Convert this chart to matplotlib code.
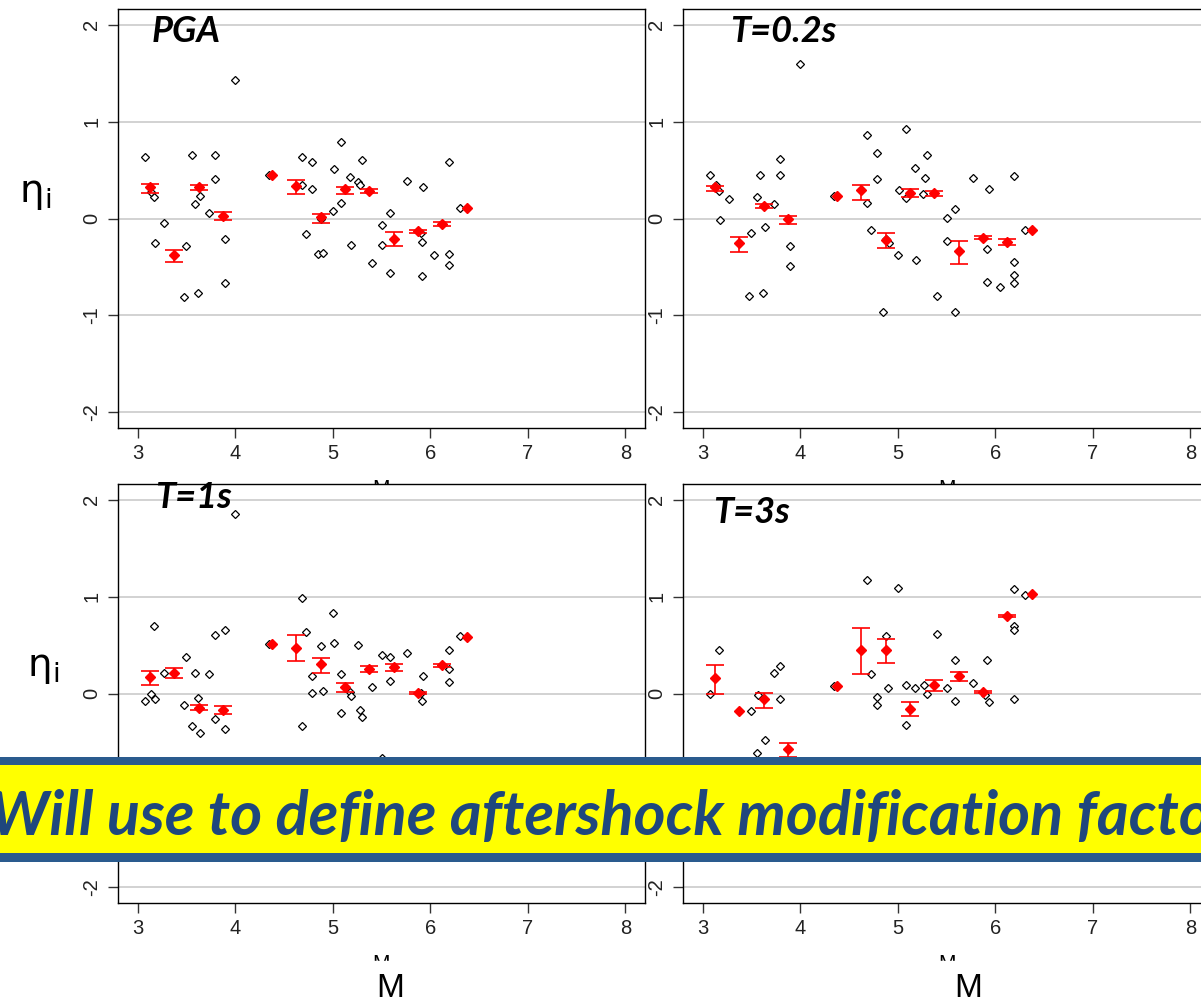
import numpy as np
import matplotlib.pyplot as plt
from matplotlib.patches import Rectangle

# centres of the magnitude bins (red means)
BIN_M = [3.125, 3.375, 3.625, 3.875, 4.375, 4.625, 4.875, 5.125, 5.375, 5.625, 5.875, 6.125, 6.375]

# PGA
PGA_M = [4.00, 3.08, 3.56, 3.79, 3.79, 3.17, 3.14, 3.64, 3.59, 3.73, 3.27, 3.18, 3.50, 3.90, 3.90,
         3.48, 3.62, 4.35, 4.69, 4.79, 4.69, 4.79, 4.73, 5.09, 5.30, 5.01, 5.18, 5.26, 5.28, 5.08,
         5.00, 4.88, 4.85, 4.90, 5.19, 5.40, 5.59, 5.50, 5.50, 5.59, 5.76, 5.93, 5.90, 5.91, 5.92,
         6.04, 6.19, 6.19, 6.19, 6.30]
PGA_ETA = [1.43, 0.63, 0.65, 0.65, 0.41, 0.22, 0.27, 0.23, 0.15, 0.06, -0.05, -0.25, -0.28, -0.21, -0.66,
           -0.81, -0.77, 0.45, 0.63, 0.58, 0.35, 0.30, -0.16, 0.79, 0.60, 0.51, 0.43, 0.38, 0.35, 0.16,
           0.08, -0.01, -0.37, -0.36, -0.27, -0.46, 0.06, -0.07, -0.27, -0.56, 0.39, 0.32, -0.15, -0.24, -0.59,
           -0.38, 0.58, -0.37, -0.48, 0.11]
PGA_MEAN = [0.32, -0.38, 0.32, 0.03, 0.45, 0.33, 0.02, 0.30, 0.285, -0.21, -0.13, -0.06, 0.11]
PGA_HI = [0.36, -0.32, 0.35, 0.065, 0.45, 0.40, 0.045, 0.32, 0.30, -0.14, -0.12, -0.04, 0.11]
PGA_LO = [0.26, -0.45, 0.29, -0.02, 0.45, 0.25, -0.045, 0.25, 0.26, -0.285, -0.15, -0.08, 0.11]

# T=0.2s
T02_M = [4.00, 3.08, 3.14, 3.17, 3.27, 3.18, 3.59, 3.79, 3.79, 3.56, 3.73, 3.64, 3.50, 3.90, 3.90,
         3.48, 3.62, 4.35, 4.69, 5.09, 4.79, 5.30, 5.18, 4.79, 5.28, 5.77, 6.19, 5.94, 5.01, 5.08,
         5.26, 4.69, 5.59, 5.50, 4.73, 4.88, 4.91, 5.50, 5.00, 5.19, 5.91, 6.19, 6.19, 6.19, 5.92,
         6.05, 5.40, 4.85, 5.59, 6.30]
T02_ETA = [1.59, 0.45, 0.35, 0.28, 0.20, -0.02, 0.45, 0.61, 0.45, 0.22, 0.15, -0.09, -0.15, -0.28, -0.49,
           -0.80, -0.77, 0.23, 0.86, 0.92, 0.68, 0.65, 0.52, 0.41, 0.42, 0.42, 0.44, 0.30, 0.29, 0.21,
           0.25, 0.16, 0.10, 0.01, -0.12, -0.21, -0.25, -0.23, -0.38, -0.43, -0.31, -0.45, -0.58, -0.66, -0.65,
           -0.71, -0.80, -0.96, -0.96, -0.12]
T02_MEAN = [0.32, -0.25, 0.13, 0.00, 0.23, 0.29, -0.22, 0.26, 0.26, -0.34, -0.20, -0.24, -0.12]
T02_HI = [0.34, -0.19, 0.15, 0.03, 0.23, 0.35, -0.15, 0.30, 0.28, -0.23, -0.185, -0.21, -0.12]
T02_LO = [0.28, -0.35, 0.11, -0.055, 0.23, 0.19, -0.30, 0.22, 0.23, -0.47, -0.21, -0.27, -0.12]

# T=1s
T1_M = [4.00, 4.69, 3.17, 3.79, 3.90, 4.73, 4.35, 3.50, 3.27, 3.59, 3.73, 4.79, 3.14, 3.08, 3.18,
        3.62, 3.48, 3.79, 3.56, 3.64, 3.90, 4.69, 4.79, 5.00, 4.88, 5.01, 5.26, 4.90, 5.09, 5.18,
        5.19, 5.08, 5.28, 5.30, 5.40, 5.50, 5.59, 5.59, 5.76, 5.93, 5.90, 5.91, 6.19, 6.19, 6.19,
        6.30, 5.50]
T1_ETA = [1.85, 0.98, 0.70, 0.60, 0.65, 0.63, 0.51, 0.375, 0.21, 0.21, 0.20, 0.18, -0.01, -0.08, -0.055,
          -0.045, -0.12, -0.26, -0.33, -0.41, -0.37, -0.34, 0.01, 0.83, 0.49, 0.52, 0.50, 0.03, 0.20, 0.02,
          -0.03, -0.20, -0.165, -0.24, 0.065, 0.40, 0.375, 0.13, 0.42, 0.18, 0.01, -0.08, 0.45, 0.25, 0.12,
          0.59, -0.66]
T1_MEAN = [0.165, 0.21, -0.145, -0.165, 0.51, 0.47, 0.30, 0.07, 0.25, 0.27, 0.01, 0.29, 0.585]
T1_HI = [0.23, 0.26, -0.12, -0.13, 0.51, 0.60, 0.365, 0.11, 0.28, 0.30, 0.02, 0.30, 0.585]
T1_LO = [0.09, 0.16, -0.17, -0.21, 0.51, 0.33, 0.21, 0.02, 0.22, 0.235, 0.0, 0.27, 0.585]

# T=3s
T3_M = [3.17, 3.08, 3.73, 3.79, 3.79, 3.57, 3.50, 3.64, 3.56, 4.35, 4.69, 5.00, 6.19, 6.30, 6.19,
        6.19, 4.88, 5.40, 5.59, 5.91, 4.73, 4.90, 5.09, 5.18, 5.27, 5.30, 5.50, 5.77, 4.79, 4.79,
        5.08, 5.59, 5.89, 5.94, 6.19]
T3_ETA = [0.45, -0.01, 0.21, 0.28, -0.055, -0.02, -0.18, -0.48, -0.61, 0.08, 1.17, 1.085, 1.075, 1.02, 0.70,
          0.65, 0.59, 0.61, 0.35, 0.35, 0.20, 0.055, 0.09, 0.055, 0.09, 0.00, 0.055, 0.11, -0.04, -0.12,
          -0.32, -0.08, -0.02, -0.09, -0.055]
T3_MEAN = [0.155, -0.18, -0.055, -0.57, 0.08, 0.45, 0.45, -0.155, 0.09, 0.18, 0.02, 0.80, 1.03]
T3_HI = [0.29, -0.18, 0.01, -0.51, 0.08, 0.675, 0.565, -0.085, 0.14, 0.22, 0.03, 0.81, 1.03]
T3_LO = [-0.01, -0.18, -0.15, -0.65, 0.08, 0.20, 0.31, -0.235, 0.025, 0.125, 0.01, 0.785, 1.03]

TITLES = ['PGA', 'T=0.2s', 'T=1s', 'T=3s']
X_TICKS = [3, 4, 5, 6, 7, 8]
Y_TICKS = [-2, -1, 0, 1, 2]
BANNER = 'Will use to define aftershock modification factor'

W, H = 1201, 998


def fx(px):
    return px / W


def fy(py):
    return 1 - py / H


def draw_panel(ax, m, eta, mean, lo, hi, title, title_pos):
    ax.set_xlim(2.8, 8.2)
    ax.set_ylim(-2.16, 2.16)
    for y in Y_TICKS:
        ax.axhline(y, color='#cfcfcf', lw=1.3, zorder=0)
    ax.plot(m, eta, 'D', ms=4.5, mfc='white', mec='black', mew=0.9, ls='none', zorder=2)

    bins = np.array(BIN_M)
    mean = np.array(mean)
    lo = np.array(lo)
    hi = np.array(hi)
    # singletons have no error bar
    has_err = hi > lo
    ax.errorbar(bins[has_err], mean[has_err],
                yerr=[mean[has_err] - lo[has_err], hi[has_err] - mean[has_err]],
                fmt='none', ecolor='red', elinewidth=1.2, capsize=6.5, capthick=1.2, zorder=3)
    ax.plot(bins, mean, 'D', ms=5.0, color='red', ls='none', zorder=4)

    ax.set_xticks(X_TICKS)
    ax.set_yticks(Y_TICKS)
    ax.set_yticklabels([str(t) for t in Y_TICKS])
    ax.tick_params(length=7, width=1, color='#333333', labelsize=14.5, labelcolor='#222222')
    ax.tick_params(axis='x', pad=4.4)
    ax.tick_params(axis='y', pad=5)
    plt.setp(ax.get_yticklabels(), rotation=90, va='center')
    for s in ax.spines.values():
        s.set_linewidth(1)
        s.set_color('black')

    ax.set_xlabel('M', fontsize=15, family='Liberation Sans')
    ax.xaxis.set_label_coords(0.5, -0.122)

    ax.text(title_pos[0], title_pos[1], title, transform=ax.transAxes, fontsize=26,
            family='Lato', fontweight='bold', fontstyle='italic', va='baseline',
            clip_on=False, zorder=6)


def main():
    plt.rcParams['font.family'] = ['Liberation Sans', 'DejaVu Sans']
    plt.rcParams['mathtext.fontset'] = 'dejavusans'
    fig = plt.figure(figsize=(W / 100, H / 100), dpi=100)

    aw, ah = 527 / W, 419 / H
    ax1 = fig.add_axes([fx(118), fy(428), aw, ah])
    ax2 = fig.add_axes([fx(683), fy(428), aw, ah])
    ax3 = fig.add_axes([fx(118), fy(903), aw, ah])
    ax4 = fig.add_axes([fx(683), fy(903), aw, ah])

    draw_panel(ax1, PGA_M, PGA_ETA, PGA_MEAN, PGA_LO, PGA_HI, TITLES[0], (0.063, 0.921))
    draw_panel(ax2, T02_M, T02_ETA, T02_MEAN, T02_LO, T02_HI, TITLES[1], (0.090, 0.921))
    draw_panel(ax3, T1_M, T1_ETA, T1_MEAN, T1_LO, T1_HI, TITLES[2], (0.070, 0.943))
    draw_panel(ax4, T3_M, T3_ETA, T3_MEAN, T3_LO, T3_HI, TITLES[3], (0.058, 0.907))

    # eta_i labels
    eta_label = r'$\mathrm{\eta}_\mathrm{i}$'
    fig.text(fx(35), fy(194), eta_label, fontsize=28, ha='center', va='center')
    fig.text(fx(43), fy(668), eta_label, fontsize=28, ha='center', va='center')

    # big M labels over the small ones
    for x0, xc in [(355, 390), (915, 968)]:
        fig.add_artist(Rectangle((fx(x0), 0), 75 / W, (H - 961) / H,
                                 transform=fig.transFigure, color='white', zorder=8))
        fig.text(fx(xc), fy(997), 'M', fontsize=24, ha='center', va='baseline', zorder=9)

    # banner
    fig.add_artist(Rectangle((0, fy(862)), 1, (862 - 757) / H, transform=fig.transFigure,
                             facecolor='#2a5b8e', edgecolor='none', zorder=10))
    fig.add_artist(Rectangle((0, fy(853)), 1, (853 - 765) / H, transform=fig.transFigure,
                             facecolor='#ffff00', edgecolor='none', zorder=11))
    fig.text(fx(-10), fy(835), BANNER, fontsize=44, family='Lato', fontweight='bold',
             fontstyle='italic', color='#1f477d', ha='left', va='baseline', zorder=12)

    fig.savefig('out.png', dpi=100)


if __name__ == '__main__':
    main()
